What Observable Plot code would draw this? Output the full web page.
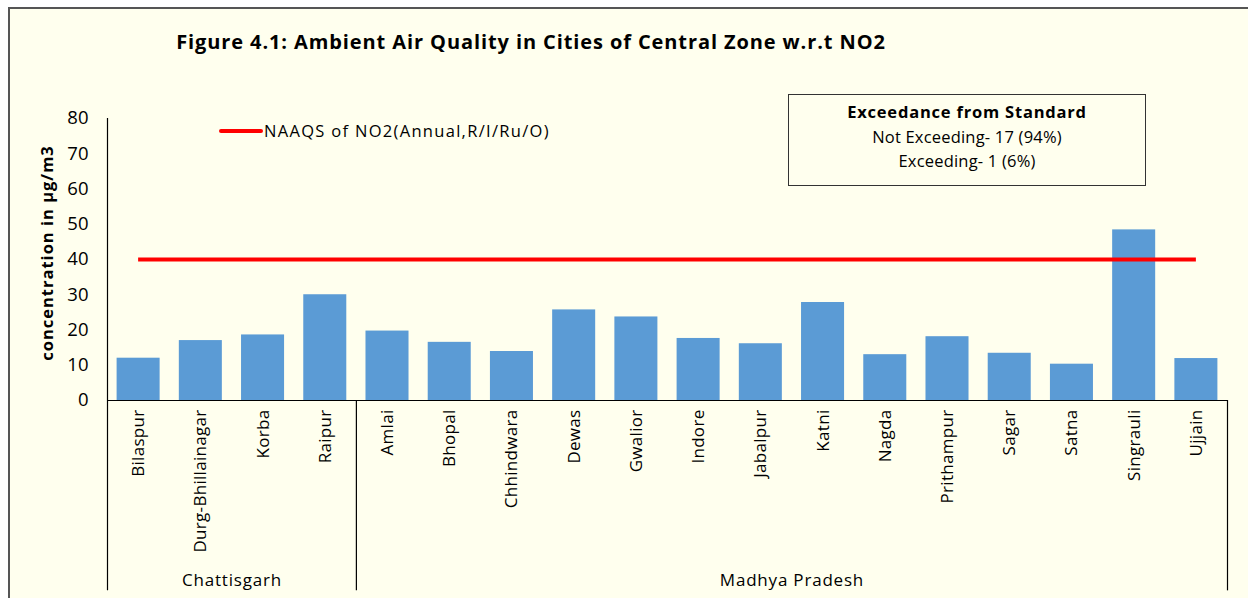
<!DOCTYPE html>
<html>
<head>
<meta charset="utf-8">
<script src="https://cdn.jsdelivr.net/npm/d3@7"></script>
<script src="https://cdn.jsdelivr.net/npm/@observablehq/plot@0.6"></script>
<style>
  html, body { margin: 0; padding: 0; background: #ffffff; }
  #wrap { position: relative; width: 1248px; height: 598px; overflow: hidden; font-family: "Open Sans", "Noto Sans", sans-serif; }
  #frame { position: absolute; left: 8px; top: 7px; width: 1260px; height: 620px; border: 2px solid #555; background: #FFFFEE; box-sizing: border-box; }
  #chart { position: absolute; left: 0; top: 0; }
  .title { position: absolute; left: 0; width: 1062px; top: 28px; text-align: center; font-weight: bold; font-size: 20px; letter-spacing: 0.9px; color: #000; white-space: nowrap; }
  .ylabel { position: absolute; left: 46px; top: 253px; transform: translate(-50%, -50%) rotate(-90deg); font-weight: bold; font-size: 16.5px; letter-spacing: 1px; white-space: nowrap; color: #000; }
  .legend { position: absolute; left: 219px; top: 119px; display: flex; align-items: center; font-size: 16.5px; letter-spacing: 1.3px; color: #000; white-space: nowrap; }
  .legend .sw { width: 44px; height: 4px; background: #FF0000; border-radius: 2px; margin-right: 1px; }
  .box { position: absolute; left: 788px; top: 94px; width: 358px; height: 92px; border: 1.5px solid #333; box-sizing: border-box; text-align: center; font-size: 16.5px; line-height: 24.5px; padding-top: 5px; color: #000; white-space: nowrap; }
  .box b { font-weight: bold; letter-spacing: 0.8px; }
  .box span { letter-spacing: 0.2px; }
</style>
</head>
<body>
<div id="wrap">
  <div id="frame"></div>
  <div id="chart"></div>
  <div class="title">Figure 4.1: Ambient Air Quality in Cities of Central Zone w.r.t NO2</div>
  <div class="ylabel">concentration in µg/m3</div>
  <div class="legend"><span class="sw"></span><span>NAAQS of NO2(Annual,R/I/Ru/O)</span></div>
  <div class="box"><b>Exceedance from Standard</b><br><span>Not Exceeding- 17 (94%)</span><br><span>Exceeding- 1 (6%)</span></div>
</div>
<script>
const cities = ["Bilaspur","Durg-Bhillainagar","Korba","Raipur","Amlai","Bhopal","Chhindwara","Dewas","Gwalior","Indore","Jabalpur","Katni","Nagda","Prithampur","Sagar","Satna","Singrauli","Ujjain"];
const states = ["Chattisgarh","Chattisgarh","Chattisgarh","Chattisgarh","Madhya Pradesh","Madhya Pradesh","Madhya Pradesh","Madhya Pradesh","Madhya Pradesh","Madhya Pradesh","Madhya Pradesh","Madhya Pradesh","Madhya Pradesh","Madhya Pradesh","Madhya Pradesh","Madhya Pradesh","Madhya Pradesh","Madhya Pradesh"];
const no2 = [12.0, 17.0, 18.6, 30.0, 19.7, 16.5, 13.9, 25.7, 23.7, 17.6, 16.1, 27.8, 13.0, 18.1, 13.4, 10.3, 48.4, 11.9];
const standard = 40;
const yTicks = [0, 10, 20, 30, 40, 50, 60, 70, 80];

const rows = cities.map((c, i) => ({city: c, state: states[i], value: no2[i], i}));
const groupNames = Array.from(new Set(states));
const groups = groupNames.map(g => {
  const idx = rows.filter(r => r.state === g).map(r => r.i);
  return {state: g, start: d3.min(idx), end: d3.max(idx) + 1};
});
const boundaries = [0, ...groups.map(g => g.end)];
const bottomDepth = -54;

const chart = Plot.plot({
  width: 1248,
  height: 598,
  marginLeft: 107,
  marginRight: 21,
  marginTop: 118,
  marginBottom: 198,
  style: {background: "transparent", fontFamily: "'Open Sans', 'Noto Sans', sans-serif", color: "#000", overflow: "visible"},
  x: {domain: [0, cities.length], axis: null},
  y: {domain: [0, 80], axis: null},
  marks: [
    Plot.rectY(rows, {x1: d => d.i, x2: d => d.i + 1, y: "value", fill: "#5B9BD5", insetLeft: 9.6, insetRight: 9.6}),
    Plot.ruleY([standard], {x1: 0.5, x2: cities.length - 0.5, stroke: "#FF0000", strokeWidth: 4}),
    Plot.ruleY([0], {x1: 0, x2: cities.length, stroke: "#000", strokeWidth: 1.2}),
    Plot.ruleX([0], {y1: bottomDepth, y2: 80, stroke: "#000", strokeWidth: 1.2}),
    Plot.ruleX(boundaries.slice(1), {y1: bottomDepth, y2: 0, stroke: "#000", strokeWidth: 1.2}),
    Plot.text(yTicks, {x: 0, y: d => d, text: d => String(d), textAnchor: "end", dx: -19, fontSize: 18.5, fill: "#000"}),
    Plot.text(rows, {x: d => d.i + 0.5, y: 0, text: "city", rotate: -90, textAnchor: "end", dy: 9, fontSize: 17, fill: "#000", lineAnchor: "middle"}),
    Plot.text(groups, {x: d => (d.start + d.end) / 2, y: -51, text: "state", fontSize: 17, fill: "#000"})
  ]
});
const textGroups = chart.querySelectorAll('g[aria-label="text"]');
if (textGroups[1]) textGroups[1].setAttribute("letter-spacing", "0.3px");
if (textGroups[2]) textGroups[2].setAttribute("letter-spacing", "0.8px");
document.getElementById("chart").appendChild(chart);
</script>
</body>
</html>
